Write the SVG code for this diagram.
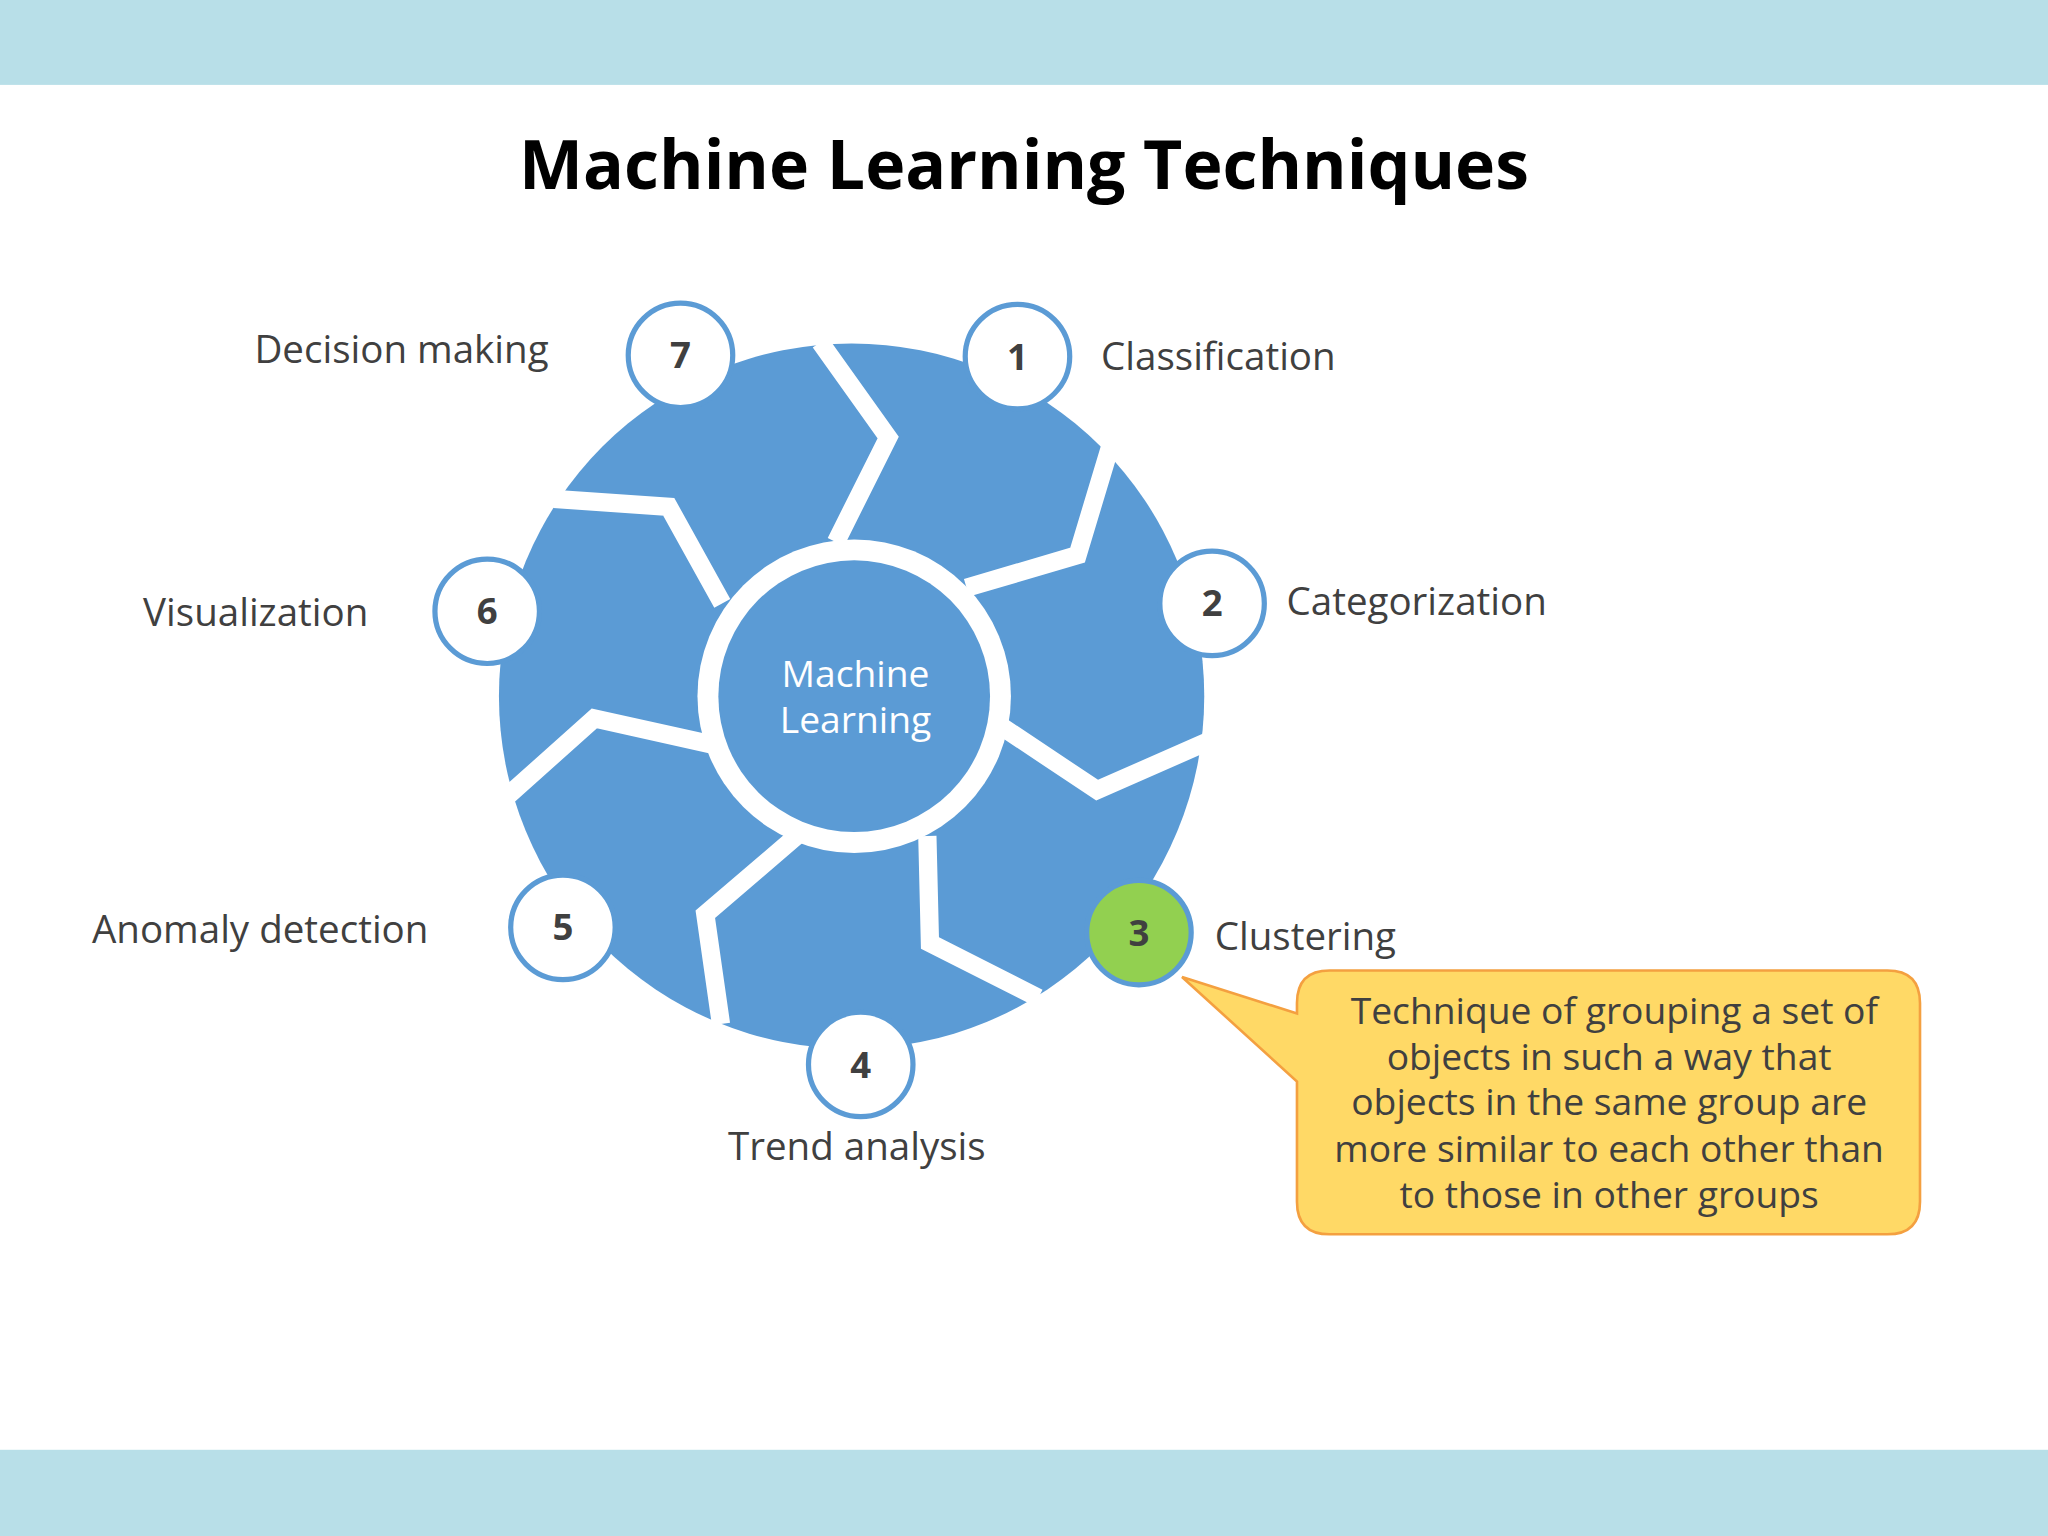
<svg xmlns="http://www.w3.org/2000/svg" width="2048" height="1536" viewBox="0 0 2048 1536">
<style>
.lbl{font-family:"Open Sans","Liberation Sans",sans-serif;font-size:29.5px;fill:#404040}
.num{font-family:"Open Sans","Liberation Sans",sans-serif;font-size:28px;font-weight:bold;fill:#404040;text-anchor:middle}
.nc{fill:#fff;stroke:#5b9bd5;stroke-width:4}
.div{fill:none;stroke:#fff;stroke-width:14;stroke-linejoin:miter}
.ct{font-family:"Open Sans","Liberation Sans",sans-serif;font-size:28.5px;fill:#404040;text-anchor:middle}
</style>
<rect width="2048" height="1536" fill="#fff"/>
<g transform="scale(1.30612)">
<rect x="0" y="0" width="1568" height="65" fill="#b8dfe8"/>
<rect x="0" y="1110" width="1568" height="66" fill="#b8dfe8"/>
<text x="784" y="145" text-anchor="middle" font-family="'Open Sans','Liberation Sans',sans-serif" font-weight="bold" font-size="52" fill="#000">Machine Learning Techniques</text>
<g id="wheel">
<circle cx="652" cy="533" r="270" fill="#5b9bd5"/>
<g id="connectors">
<path class="div" d="M640,415 L680,335 L628,262"/>
<path class="div" d="M740,450 L825,425 L850,342"/>
<path class="div" d="M765,555 L840,605 L924,568"/>
<path class="div" d="M710,640 L712,722 L795,764"/>
<path class="div" d="M610,640 L540,700 L552,784"/>
<path class="div" d="M545,570 L455,550 L388,610"/>
<path class="div" d="M553,462 L512,388 L424,382"/>
</g>
<circle cx="654" cy="533" r="120" fill="#fff"/>
<circle cx="654" cy="533" r="104" fill="#5b9bd5"/>
<text x="655" y="526" text-anchor="middle" font-family="'Open Sans','Liberation Sans',sans-serif" font-size="28.5" fill="#fff">Machine</text>
<text x="655" y="561" text-anchor="middle" font-family="'Open Sans','Liberation Sans',sans-serif" font-size="28.5" fill="#fff">Learning</text>
</g>
<g id="n7"><circle class="nc" cx="521" cy="272" r="40"/><text class="num" x="521" y="282">7</text><text class="lbl" x="420" y="278" text-anchor="end">Decision making</text></g>
<g id="n1"><circle class="nc" cx="779" cy="273" r="40"/><text class="num" x="779" y="283">1</text><text class="lbl" x="843" y="283">Classification</text></g>
<g id="n2"><circle class="nc" cx="928" cy="462" r="40"/><text class="num" x="928" y="472">2</text><text class="lbl" x="985" y="471">Categorization</text></g>
<g id="n3"><circle cx="872" cy="714" r="40" fill="#92d050" stroke="#5b9bd5" stroke-width="4"/><text class="num" x="872" y="724">3</text><text class="lbl" x="930" y="727">Clustering</text></g>
<g id="n4"><circle class="nc" cx="659" cy="815" r="40"/><text class="num" x="659" y="825">4</text><text class="lbl" x="656" y="888" text-anchor="middle">Trend analysis</text></g>
<g id="n5"><circle class="nc" cx="431" cy="710" r="40"/><text class="num" x="431" y="720">5</text><text class="lbl" x="328" y="722" text-anchor="end">Anomaly detection</text></g>
<g id="n6"><circle class="nc" cx="373" cy="468" r="40"/><text class="num" x="373" y="478">6</text><text class="lbl" x="282" y="479" text-anchor="end">Visualization</text></g>
<g id="callout">
<path d="M1018,743 L1445,743 Q1470,743 1470,768 L1470,920 Q1470,945 1445,945 L1018,945 Q993,945 993,920 L993,828 L905,748 L993,776 L993,768 Q993,743 1018,743 Z" fill="#ffd966" stroke="#f4a040" stroke-width="2"/>
<text class="ct" x="1236" y="784">Technique of grouping a set of</text>
<text class="ct" x="1232" y="819">objects in such a way that</text>
<text class="ct" x="1232" y="854">objects in the same group are</text>
<text class="ct" x="1232" y="890">more similar to each other than</text>
<text class="ct" x="1232" y="925">to those in other groups</text>
</g>
</g>
</svg>
